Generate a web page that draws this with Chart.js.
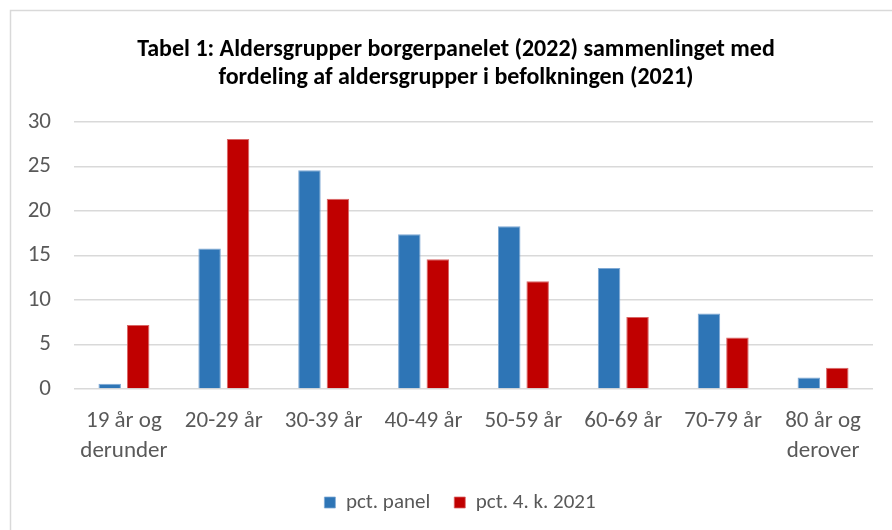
<!DOCTYPE html>
<html>
<head>
<meta charset="utf-8">
<script src="https://cdn.jsdelivr.net/npm/chart.js@4"></script>
<style>
html,body{margin:0;padding:0;background:#fff;}
#wrap{width:892px;height:530px;position:relative;}
</style>
</head>
<body>
<div id="wrap"><canvas id="c" width="892" height="530"></canvas></div>
<script>
const categories = [["19 år og","derunder"],"20-29 år","30-39 år","40-49 år","50-59 år","60-69 år","70-79 år",["80 år og","derover"]];
const panelValues = [0.6, 15.8, 24.6, 17.4, 18.3, 13.6, 8.5, 1.3];
const populationValues = [7.2, 28.1, 21.4, 14.6, 12.1, 8.1, 5.8, 2.4];
const seriesNames = ["pct. panel", "pct. 4. k. 2021"];
const titleLines = ["Tabel 1: Aldersgrupper borgerpanelet (2022) sammenlinget med", "fordeling af aldersgrupper i befolkningen (2021)"];

const FONT = 'Carlito, Calibri, Lato, sans-serif';

const borderPlugin = {
  id: 'outerBorder',
  beforeDraw(chart) {
    const ctx = chart.ctx;
    ctx.save();
    ctx.fillStyle = '#fff';
    ctx.fillRect(0, 0, chart.width, chart.height);
    ctx.strokeStyle = '#d9d9d9';
    ctx.lineWidth = 1.5;
    ctx.strokeRect(10.5, 10.5, 1000, 1000);
    ctx.restore();
  }
};

const blockShift = {
  id: 'blockShift',
  afterLayout(chart) {
    if (chart.legend) { chart.legend.left += 47; }
    if (chart.titleBlock) { chart.titleBlock.left += 39; }
  }
};

new Chart(document.getElementById('c'), {
  type: 'bar',
  data: {
    labels: categories,
    datasets: [
      { label: seriesNames[0], data: panelValues, backgroundColor: '#2E75B6', borderColor: '#7FA9D4', borderWidth: {top:1,left:1,right:1,bottom:0} },
      { label: seriesNames[1], data: populationValues, backgroundColor: '#C00000', borderColor: '#D96666', borderWidth: {top:1,left:1,right:1,bottom:0} }
    ]
  },
  options: {
    responsive: false,
    animation: false,
    devicePixelRatio: 1,
    layout: { padding: { left: 0, right: 19, top: 0, bottom: 7 } },
    datasets: { bar: { categoryPercentage: 0.57, barPercentage: 0.79 } },
    plugins: {
      title: {
        display: true,
        text: titleLines,
        color: '#000',
        font: { family: FONT, size: 24, weight: 'bold', lineHeight: 1.17 },
        padding: { top: 36, bottom: 30 }
      },
      legend: {
        display: true,
        position: 'bottom',
        labels: {
          color: '#595959',
          font: { family: FONT, size: 21 },
          boxWidth: 11,
          boxHeight: 11,
          padding: 24
        }
      },
      tooltip: { enabled: false }
    },
    scales: {
      x: {
        grid: { display: false, drawTicks: false },
        border: { display: false },
        ticks: {
          color: '#595959',
          font: { family: FONT, size: 23, lineHeight: 1.3 },
          padding: 17,
          maxRotation: 0,
          autoSkip: false
        },
        afterFit(scale) { scale.height = 79; }
      },
      y: {
        min: 0,
        max: 30,
        grid: { color: '#d9d9d9', lineWidth: 1.5, drawTicks: false },
        border: { display: false },
        ticks: {
          stepSize: 5,
          color: '#595959',
          font: { family: FONT, size: 23 },
          padding: 23
        },
        afterFit(scale) { scale.width = 74; }
      }
    }
  },
  plugins: [borderPlugin, blockShift]
});
</script>
</body>
</html>
